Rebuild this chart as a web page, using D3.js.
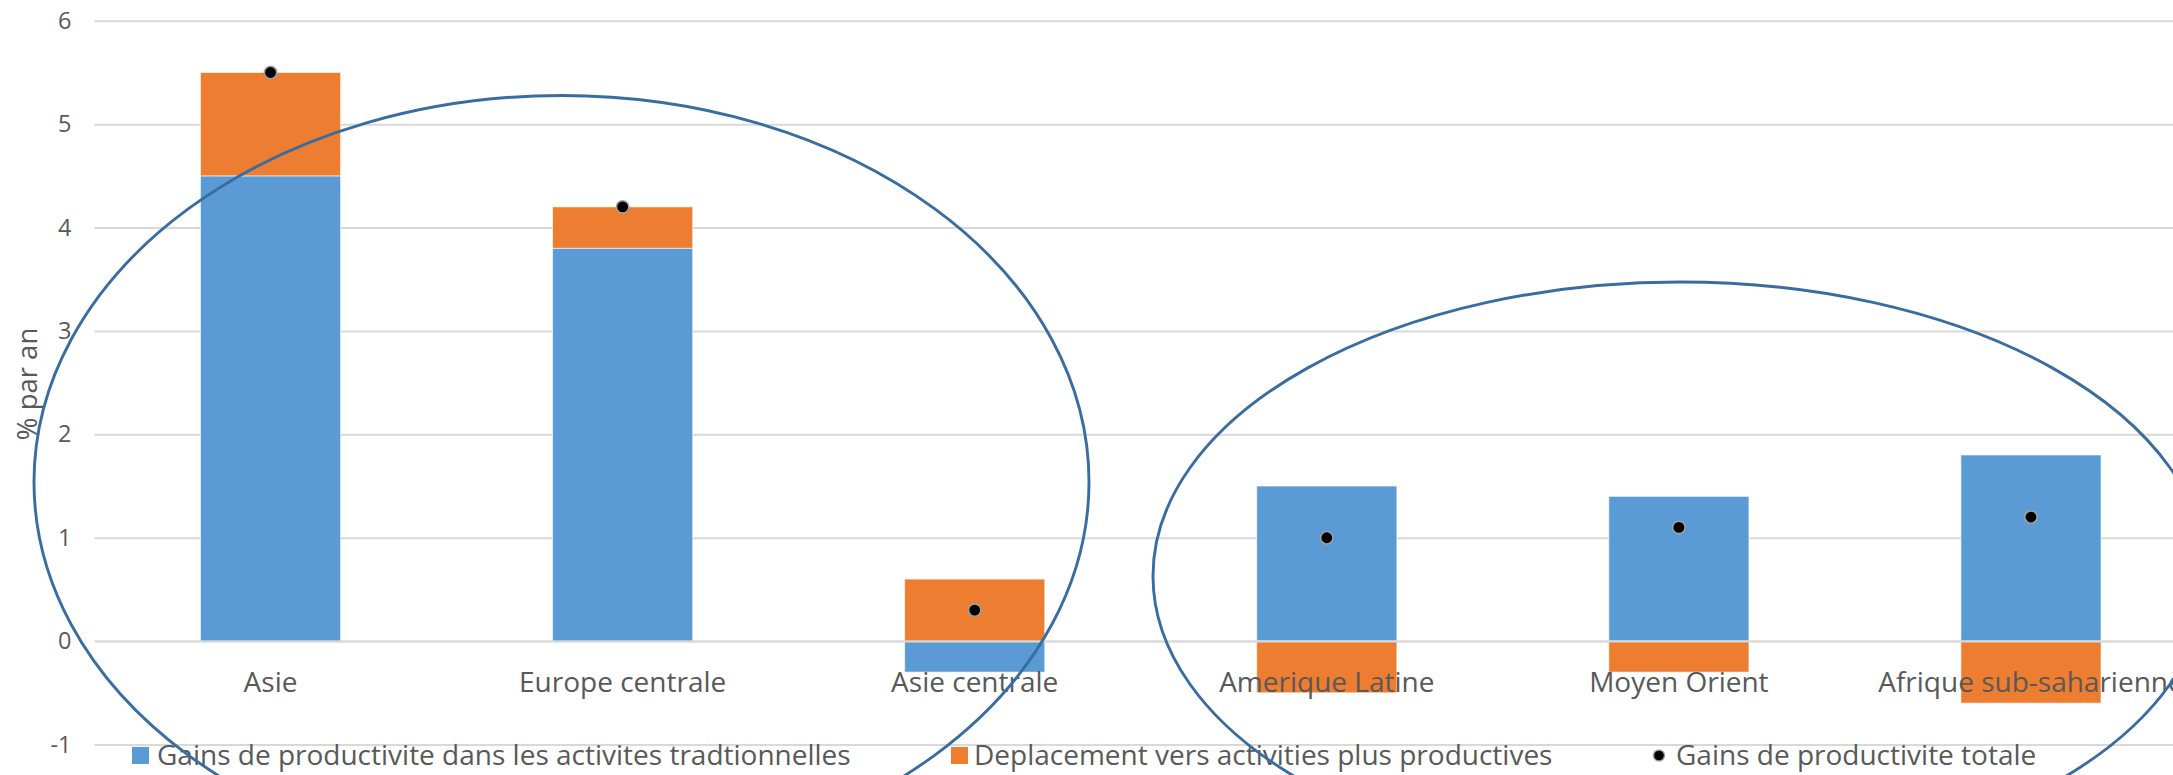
<!DOCTYPE html>
<html>
<head>
<meta charset="utf-8">
<script src="https://cdn.jsdelivr.net/npm/d3@7"></script>
<style>
  html, body { margin: 0; padding: 0; background: #fff; overflow: hidden; }
  svg { display: block; font-family: "Open Sans", "DejaVu Sans", sans-serif; }
</style>
</head>
<body>
<svg id="chart" width="2173" height="775"></svg>
<script>
// ---- Data ----
const categories = ["Asie", "Europe centrale", "Asie centrale", "Amerique Latine", "Moyen Orient", "Afrique sub-saharienne"];
const traditionnelles = [4.5, 3.8, -0.3, 1.5, 1.4, 1.8];
const deplacement = [1.0, 0.4, 0.6, -0.5, -0.3, -0.6];
const totale = [5.5, 4.2, 0.3, 1.0, 1.1, 1.2];
const seriesNames = ["Gains de productivite dans les activites tradtionnelles", "Deplacement vers activities plus productives", "Gains de productivite totale"];
const yTicks = [-1, 0, 1, 2, 3, 4, 5, 6];
const yTitle = "% par an";

// ---- Layout / style ----
const W = 2173, H = 775;
const plotLeft = 94.5, plotRight = 2207;
const colBlue = "#5B9BD5", colOrange = "#ED7D31", gridCol = "#D9D9D9", textCol = "#595959", ellCol = "#3A6D9F";
const labelSize = 28;

const svg = d3.select("#chart");

const x = d3.scaleBand().domain(categories).range([plotLeft, plotRight])
  .paddingInner(0.602).paddingOuter(0.301);
const y = d3.scaleLinear().domain([-1, 6]).range([744.5, 20.8]);

// gridlines + y tick labels
const yAxis = svg.append("g").attr("transform", `translate(${plotLeft},0)`)
  .call(d3.axisLeft(y).tickValues(yTicks).tickSize(-(plotRight - plotLeft)).tickPadding(23).tickFormat(d => String(d)));
yAxis.select(".domain").remove();
yAxis.selectAll(".tick line").attr("stroke", gridCol).attr("stroke-width", 2);
yAxis.selectAll(".tick text").attr("fill", textCol).attr("font-size", 23.5)
  .attr("font-family", "'Open Sans', sans-serif");

// stacked bars (diverging)
const rows = categories.map((c, i) => ({ cat: c, trad: traditionnelles[i], depl: deplacement[i] }));
const stack = d3.stack().keys(["trad", "depl"]).offset(d3.stackOffsetDiverging);
const stacked = stack(rows);
const colors = { trad: colBlue, depl: colOrange };

svg.append("g").selectAll("g").data(stacked).join("g")
  .attr("fill", d => colors[d.key])
  .selectAll("rect").data(d => d).join("rect")
  .attr("x", d => x(d.data.cat))
  .attr("width", x.bandwidth())
  .attr("y", d => y(Math.max(d[0], d[1])))
  .attr("height", d => Math.abs(y(d[0]) - y(d[1])))
  .attr("stroke", "#ffffff").attr("stroke-width", 1).attr("stroke-opacity", 0.6);

// category axis at zero with labels
const xAxis = svg.append("g").attr("transform", `translate(0,${y(0)})`)
  .call(d3.axisBottom(x).tickSize(0).tickSizeOuter(0).tickPadding(31));
xAxis.select(".domain").attr("stroke", gridCol).attr("stroke-width", 2);
xAxis.selectAll(".tick text").attr("fill", textCol).attr("font-size", labelSize)
  .attr("font-family", "'Open Sans', sans-serif");

// total dots
svg.append("g").selectAll("circle").data(totale).join("circle")
  .attr("cx", (d, i) => x(categories[i]) + x.bandwidth() / 2)
  .attr("cy", d => y(d))
  .attr("r", 6.2)
  .attr("fill", "#000").attr("stroke", "#A0A0A0").attr("stroke-width", 1.6);

// y axis title
svg.append("text")
  .attr("transform", `translate(26,${384}) rotate(-90)`)
  .attr("text-anchor", "middle").attr("dominant-baseline", "central")
  .attr("fill", textCol).attr("font-size", 27.5).text(yTitle);

// legend
const legend = svg.append("g").attr("font-size", labelSize).attr("fill", textCol);
const legX = [132, 951, 1651];
// item 1
legend.append("rect").attr("x", legX[0]).attr("y", 747).attr("width", 17).attr("height", 17).attr("fill", colBlue);
legend.append("text").attr("x", legX[0] + 25).attr("y", 765).text(seriesNames[0]);
// item 2
legend.append("rect").attr("x", legX[1]).attr("y", 747).attr("width", 17).attr("height", 17).attr("fill", colOrange);
legend.append("text").attr("x", legX[1] + 23).attr("y", 765).text(seriesNames[1]);
// item 3
legend.append("circle").attr("cx", legX[2] + 8).attr("cy", 755.5).attr("r", 5.5)
  .attr("fill", "#000").attr("stroke", "#A0A0A0").attr("stroke-width", 1.4);
legend.append("text").attr("x", legX[2] + 25).attr("y", 765).text(seriesNames[2]);

// annotation ellipses
const ells = [
  { cx: 561.5, cy: 482, rx: 527.5, ry: 386.5 },
  { cx: 1680, cy: 576, rx: 527, ry: 294 }
];
svg.append("g").selectAll("ellipse").data(ells).join("ellipse")
  .attr("cx", d => d.cx).attr("cy", d => d.cy).attr("rx", d => d.rx).attr("ry", d => d.ry)
  .attr("fill", "none").attr("stroke", ellCol).attr("stroke-width", 2.9);
</script>
</body>
</html>
